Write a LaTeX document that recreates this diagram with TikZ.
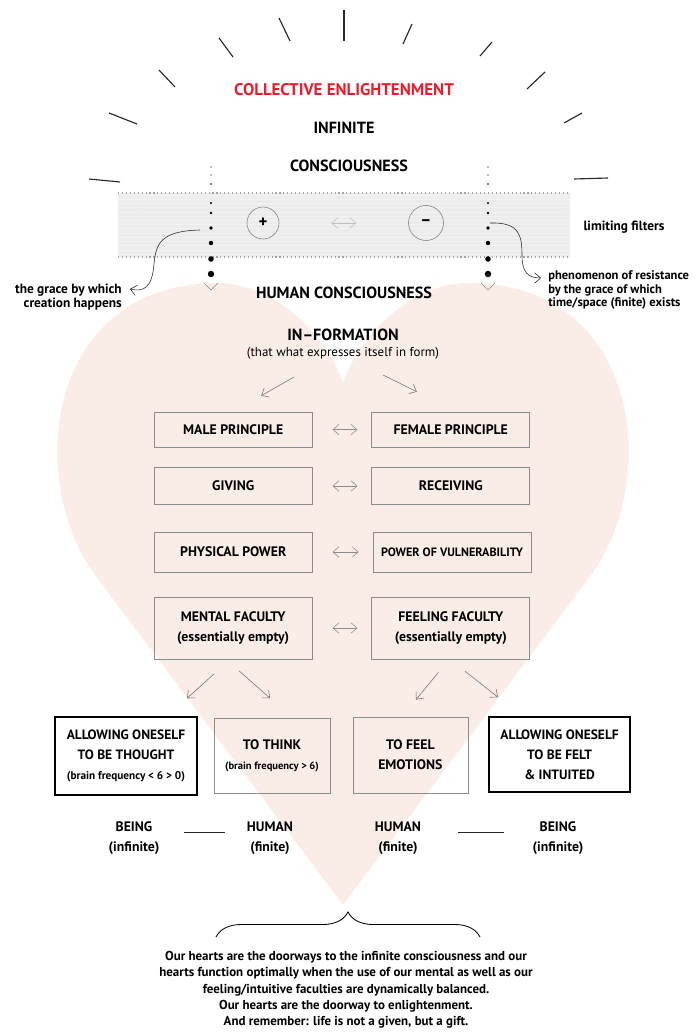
\documentclass[tikz,border=0pt]{standalone}
\usepackage{fontspec}
\setmainfont{PT Sans}
\usepackage{tikz}
\usetikzlibrary{arrows.meta, decorations.pathreplacing, patterns, positioning}
\usepackage{xcolor}

\definecolor{heartpink}{RGB}{250,237,232}
\definecolor{filtergray}{RGB}{236,236,236}
\definecolor{enlightred}{RGB}{230,30,45}

\tikzset{
  headline/.style={font=\fontsize{11.5}{13}\selectfont\bfseries},
  remark/.style={font=\fontsize{9.5}{10.2}\selectfont\bfseries},
  sketchbox/.style={draw=black!45, line width=0.5pt, minimum width=3.95cm, inner xsep=2pt, align=center, font=\fontsize{9.8}{14}\selectfont\bfseries},
  boldbox/.style={draw=black, line width=1pt, inner xsep=2pt, align=center, font=\fontsize{9.6}{14.2}\selectfont\bfseries},
  thinarrow/.style={draw=black!55, line width=0.4pt, -{Straight Barb[length=1.5mm,width=2.6mm]}},
  bothways/.style={draw=black!45, line width=0.4pt, {Straight Barb[length=1.5mm,width=2.6mm]}-{Straight Barb[length=1.5mm,width=2.6mm]}},
  ray/.style={line width=0.8pt, black!85},
  tier/.style={align=center, font=\fontsize{9.8}{14}\selectfont\bfseries},
}

\begin{document}
\begin{tikzpicture}
    \useasboundingbox (0,0) rectangle (17.4,-25.875);

    % heart in the background
    \fill[heartpink] (8.575,-22.625) -- (2.375,-14.375)
        .. controls (0.625,-12) and (1.125,-7.075) .. (5.45,-7.075)
        .. controls (6.75,-7.075) and (8.125,-8.25) .. (8.575,-9.575)
        .. controls (9.025,-8.25) and (10.4,-7.075) .. (11.7,-7.075)
        .. controls (16.025,-7.075) and (16.525,-12) .. (14.775,-14.375) -- cycle;

    % rays round the top
    \draw[ray] (2.225,-4.475) -- (3,-4.55);
    \draw[ray] (2.725,-2.825) -- (3.425,-3.1);
    \draw[ray] (3.975,-1.75) -- (4.375,-2.175);
    \draw[ray] (5.475,-0.95) -- (5.825,-1.425);
    \draw[ray] (6.975,-0.45) -- (7.25,-1.025);
    \draw[ray] (8.6,-0.25) -- (8.6,-1.025);
    \draw[ray] (10.3,-0.6) -- (10.075,-1.1);
    \draw[ray] (12.3,-1.05) -- (12,-1.4);
    \draw[ray] (13.625,-1.8) -- (13.175,-2.225);
    \draw[ray] (14.55,-2.825) -- (14.1,-3.075);
    \draw[ray] (14.35,-4.475) -- (15.2,-4.45);

    \node[headline, enlightred, font=\fontsize{12}{14}\selectfont\bfseries] (collective) at (8.6,-2.25) {COLLECTIVE ENLIGHTENMENT};
    \node[headline] (infinite) at (8.6,-3.2) {INFINITE};
    \node[headline] (conscious) at (8.725,-4.15) {CONSCIOUSNESS};

    % the filter band
    \fill[filtergray] (2.95,-4.825) rectangle (14.25,-6.425);
    \fill[pattern=horizontal lines, pattern color=black!5] (2.95,-4.825) rectangle (14.25,-6.425);
    \draw[dotted, black!35, line width=0.8pt] (2.95,-4.825) -- (14.25,-4.825);
    \draw[dotted, black!35, line width=0.8pt] (2.95,-6.425) -- (14.25,-6.425);

    % growing dots
    \foreach \y/\r in {-4.175/0.015, -4.375/0.015, -4.6/0.02, -5.075/0.03, -5.325/0.035, -5.7/0.045, -6.075/0.055, -6.475/0.07, -6.85/0.08}{
        \fill (5.275,\y) circle (\r);
        \fill (12.2,\y) circle (\r);
    }
    \draw[black!45, line width=0.4pt] (5.1,-7.075) -- (5.275,-7.25) -- (5.45,-7.075);
    \draw[black!45, line width=0.4pt] (12.025,-7.075) -- (12.2,-7.25) -- (12.375,-7.075);

    \node[circle, draw=black!50, line width=0.4pt, minimum size=0.8cm, font=\large\bfseries] (plus) at (6.575,-5.575) {+};
    \node[circle, draw=black!50, line width=0.4pt, minimum size=0.875cm, font=\large\bfseries] (minus) at (10.65,-5.575) {--};
    \draw[bothways, draw=black!25, shorten <=1.3cm, shorten >=1.3cm] (plus) -- (minus);

    \node[remark] (filters) at (15.6,-5.675) {limiting filters};

    % side notes
    \node[remark, align=right, anchor=east, inner xsep=0pt] (graceTxt) at (3.05,-7.425) {the grace by which\\creation happens};
    \coordinate (graceL) at (5.0,-5.75);
    \draw[thinarrow, draw=black!85] (graceL) .. controls (4.0,-5.775) and (3.9,-6.1) .. (3.85,-6.6)
        .. controls (3.8,-7.2) and (3.6,-7.3) .. ([shift={(0.2,0.2)}]graceTxt.east);

    \node[remark, align=left, anchor=west, inner xsep=0pt, font=\fontsize{8.9}{9.8}\selectfont\bfseries] (resistTxt) at (13.7,-7.25) {phenomenon of resistance\\by the grace of which\\time/space (finite) exists};
    \coordinate (resistR) at (12.25,-5.575);
    \draw[thinarrow, draw=black!85] (resistR) .. controls (13.0,-5.55) and (13.05,-5.9) .. (13.05,-6.4)
        .. controls (13.05,-6.8) and (13.2,-6.95) .. ([shift={(-0.175,0.3)}]resistTxt.west);

    \node[headline] (human) at (8.6,-7.325) {HUMAN CONSCIOUSNESS};
    \node[headline] (inform) at (8.575,-8.375) {IN--FORMATION};
    \node[font=\fontsize{9.2}{10}\selectfont] (sub) at (8.575,-8.825) {(that what expresses itself in form)};

    % the pairs
    \node[sketchbox, minimum height=0.875cm] (male) at (5.83,-10.74) {MALE PRINCIPLE};
    \node[sketchbox, minimum height=0.875cm] (female) at (11.27,-10.74) {FEMALE PRINCIPLE};
    \node[sketchbox, minimum height=0.925cm] (giving) at (5.83,-12.15) {GIVING};
    \node[sketchbox, minimum height=0.925cm] (receiving) at (11.27,-12.15) {RECEIVING};
    \node[sketchbox, minimum height=1cm] (physical) at (5.83,-13.8) {PHYSICAL POWER};
    \node[sketchbox, minimum height=1cm, font=\fontsize{8.6}{11}\selectfont\bfseries] (vulnerable) at (11.3,-13.8) {POWER OF VULNERABILITY};
    \node[sketchbox, minimum height=1.55cm] (mental) at (5.83,-15.7) {MENTAL FACULTY\\(essentially empty)};
    \node[sketchbox, minimum height=1.55cm] (feeling) at (11.27,-15.7) {FEELING FACULTY\\(essentially empty)};

    \draw[thinarrow] ([shift={(-1.225,-0.6)}]sub.center) -- ([shift={(0.7,0.4)}]male.north);
    \draw[thinarrow] ([shift={(1.0,-0.55)}]sub.center) -- ([shift={(-0.85,0.5)}]female.north);

    \draw[bothways, shorten <=0.5cm, shorten >=0.35cm] (male) -- (female);
    \draw[bothways, shorten <=0.5cm, shorten >=0.35cm] (giving) -- (receiving);
    \draw[bothways, shorten <=0.5cm, shorten >=0.35cm] (physical) -- (vulnerable);
    \draw[bothways, shorten <=0.5cm, shorten >=0.35cm] (mental) -- (feeling);

    % bottom row
    \node[boldbox, minimum width=3.55cm, minimum height=1.95cm] (allowT) at (3.15,-18.9) {ALLOWING ONESELF\\TO BE THOUGHT\\{\fontsize{8}{9}\selectfont (brain frequency < 6 > 0)}};
    \node[sketchbox, minimum width=2.9cm, minimum height=1.875cm] (think) at (6.8,-18.9) {TO THINK\\{\fontsize{7.5}{9}\selectfont (brain frequency > 6)}};
    \node[sketchbox, minimum width=2.875cm, minimum height=1.9cm] (feel) at (10.26,-18.875) {TO FEEL\\EMOTIONS};
    \node[boldbox, minimum width=3.525cm, minimum height=1.875cm] (allowF) at (13.99,-18.86) {ALLOWING ONESELF\\TO BE FELT\\\& INTUITED};

    \draw[thinarrow] ([shift={(-0.475,-0.36)}]mental.south) -- ([shift={(1.525,0.45)}]allowT.north);
    \draw[thinarrow] ([shift={(0.15,-0.29)}]mental.south) -- ([shift={(-0.05,0.5)}]think.north);
    \draw[thinarrow] ([shift={(-0.31,-0.325)}]feeling.south) -- ([shift={(0.14,0.425)}]feel.north);
    \draw[thinarrow] ([shift={(0.36,-0.3)}]feeling.south) -- ([shift={(-1.54,0.475)}]allowF.north);

    \node[tier] (beingL) at (3.35,-20.95) {BEING\\(infinite)};
    \node[tier] (humanL) at (6.75,-20.95) {HUMAN\\(finite)};
    \node[tier] (humanR) at (9.95,-20.95) {HUMAN\\(finite)};
    \node[tier] (beingR) at (13.95,-20.95) {BEING\\(infinite)};
    \draw[black!85, line width=0.7pt, shorten <=1.25cm, shorten >=1.125cm] ([yshift=0.15cm]beingL.center) -- ([yshift=0.15cm]humanL.center);
    \draw[black!85, line width=0.7pt, shorten <=1.5cm, shorten >=1.35cm] ([yshift=0.15cm]humanR.center) -- ([yshift=0.15cm]beingR.center);

    % closing words
    \draw[decorate, decoration={brace, amplitude=0.625cm}, line width=0.6pt] (5.4,-23.425) -- (12,-23.425);
    \node[align=center, font=\fontsize{9.2}{11.6}\selectfont\bfseries] (message) at (8.65,-24.75)
        {Our hearts are the doorways to the infinite consciousness and our\\
         hearts function optimally when the use of our mental as well as our\\
         feeling/intuitive faculties are dynamically balanced.\\
         Our hearts are the doorway to enlightenment.\\
         And remember: life is not a given, but a gift.};
\end{tikzpicture}
\end{document}
